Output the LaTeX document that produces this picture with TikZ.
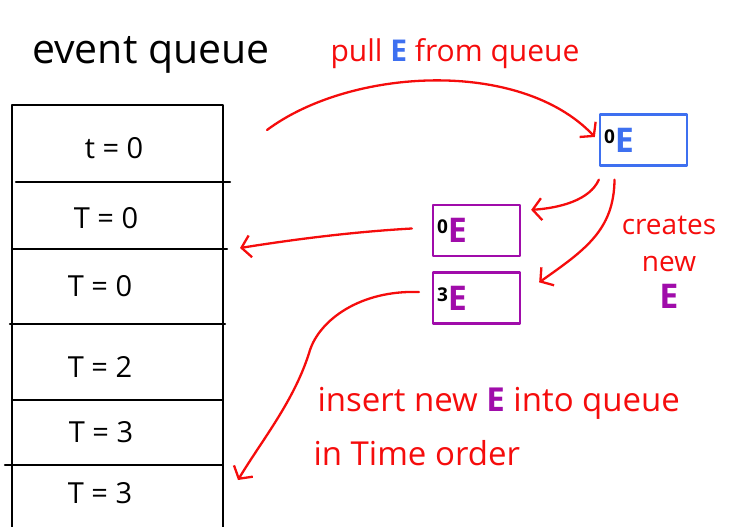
\documentclass[tikz,border=0pt]{standalone}
\usepackage{fontspec}
\setmainfont{Open Sans}
\usetikzlibrary{arrows.meta,calc}

\definecolor{penred}{RGB}{245,12,12}
\definecolor{penblue}{RGB}{62,112,240}
\definecolor{penpurple}{RGB}{160,12,170}

\newcommand{\evt}[2]{\raisebox{9pt}{\fontsize{19}{19}\selectfont\bfseries #1}{\color{#2}\fontsize{34}{34}\selectfont\bfseries E}}

\tikzset{
  pen/.style={line width=2.3pt, line cap=round, line join=round},
  redpen/.style={pen, draw=penred, -{Straight Barb[length=9pt,width=22pt,line width=2.3pt]}},
  ebox/.style={pen, draw=#1, minimum width=87pt, minimum height=51pt,
    text width=79pt, align=left, inner xsep=4pt, inner ysep=0pt},
  qlabel/.style={font=\fontsize{29}{32}\selectfont},
  note/.style={text=penred, font=\fontsize{30}{36}\selectfont, align=center}
}

\begin{document}
\begin{tikzpicture}[x=1pt,y=-1pt]

  \useasboundingbox (0,0) rectangle (733,527);

  % the queue
  \node[font=\fontsize{41}{44}\selectfont] (title) at (151,55) {event queue};

  \draw[pen] (12,527) -- (12,105) -- (223,105) -- (223,527);
  \draw[pen] (16,182) -- (230,182);
  \draw[pen] (12,249) -- (227,249);
  \draw[pen] (10,324) -- (225,324);
  \draw[pen] (12,400) -- (222,400);
  \draw[pen] (5,465) -- (222,465);

  \node[qlabel] (row1) at (114,148) {t = 0};
  \node[qlabel] (row2) at (106,218) {T = 0};
  \node[qlabel] (row3) at (100,286) {T = 0};
  \node[qlabel] (row4) at (100,367) {T = 2};
  \node[qlabel] (row5) at (101,432) {T = 3};
  \node[qlabel] (row6) at (100,493) {T = 3};

  \coordinate (qtop) at (267,130);
  \coordinate (slot0) at (240,248);
  \coordinate (slot3) at (238,480);

  % the events
  \node[ebox=penblue] (pulled) at (643.5,140) {\evt{0}{penblue}};
  \node[ebox=penpurple] (ev0) at (476.5,230.5) {\evt{0}{penpurple}};
  \node[ebox=penpurple] (ev3) at (476.5,298) {\evt{3}{penpurple}};

  % notes
  \node[note] (pullnote) at (455,54) {pull {\color{penblue}\bfseries E} from queue};
  \node[note, font=\fontsize{28}{37}\selectfont] (createnote) at (669,262)
    {creates\\new\\{\color{penpurple}\bfseries\fontsize{34}{37}\selectfont E}};
  \node[note, font=\fontsize{33}{36}\selectfont, anchor=west] (insnote) at (314,403)
    {insert new {\color{penpurple}\bfseries E} into queue};
  \node[note, font=\fontsize{33}{36}\selectfont, anchor=west] (ordnote) at (310,453)
    {in Time order};

  % arrows
  \draw[redpen] (qtop) .. controls (350,68) and (520,58) .. ($(pulled.west)+(-4,-3)$);
  \draw[redpen] ($(pulled.south west)+(0,13)$) .. controls (590,200) and (560,208)
    .. ($(ev0.north east)+(10,6)$);
  \draw[redpen] ($(pulled.south)+(-29,13)$) .. controls (614,230) and (585,250)
    .. ($(ev3.north east)+(18,11)$);
  \draw[redpen] ($(ev0.west)+(-20,-2)$) .. controls (350,232) and (290,240) .. (slot0);
  \draw[redpen] ($(ev3.west)+(-13,-6)$) .. controls (360,290) and (320,320) .. (310,350)
    .. controls (295,400) and (262,440) .. (slot3);

\end{tikzpicture}
\end{document}
